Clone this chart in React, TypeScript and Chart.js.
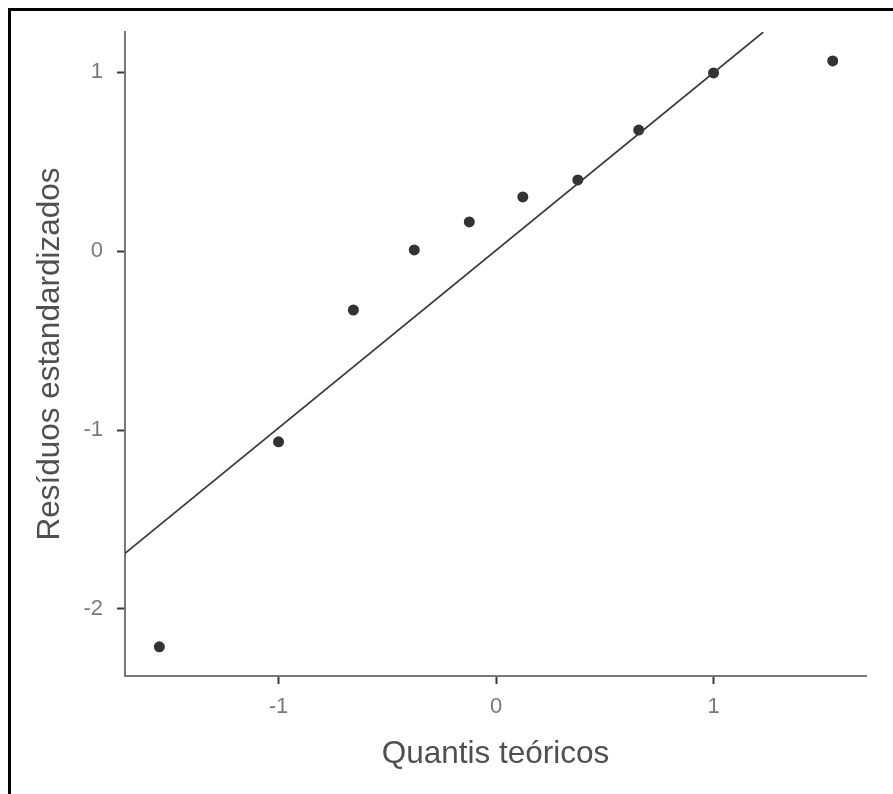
import React, { useEffect, useRef } from "react";
import { Chart, registerables } from "chart.js";

Chart.register(...registerables);

// Theoretical quantiles (x) and standardized residuals (y)
const theoreticalQuantiles = [-1.548, -1.0, -0.656, -0.376, -0.123, 0.123, 0.376, 0.656, 1.0, 1.548];
const standardizedResiduals = [-2.212, -1.066, -0.329, 0.007, 0.163, 0.303, 0.398, 0.677, 0.996, 1.063];

// Reference line endpoints
const refLineX = [-1.706, 1.229];
const refLineY = [-1.689, 1.225];

const xTicks = [-1, 0, 1];
const yTicks = [-2, -1, 0, 1];

const xTitle = "Quantis teóricos";
const yTitle = "Resíduos estandardizados";

const X_MIN = -1.706;
const X_MAX = 1.701;
const Y_MIN = -2.375;
const Y_MAX = 1.225;

export default function App() {
  const ref = useRef<HTMLCanvasElement | null>(null);

  useEffect(() => {
    if (!ref.current) return;
    const points = theoreticalQuantiles.map((x, i) => ({ x, y: standardizedResiduals[i] }));
    const line = refLineX.map((x, i) => ({ x, y: refLineY[i] }));
    const font = "'Liberation Sans', Arial, sans-serif";
    const chart = new Chart(ref.current, {
      type: "scatter",
      data: {
        datasets: [
          {
            label: "line",
            data: line,
            showLine: true,
            borderColor: "#3a3a3a",
            borderWidth: 1.7,
            pointRadius: 0,
            fill: false,
          },
          {
            label: "points",
            data: points,
            pointRadius: 5.5,
            pointBackgroundColor: "#333333",
            pointBorderColor: "#333333",
            pointBorderWidth: 0,
            clip: false as any,
          },
        ],
      },
      options: {
        animation: false,
        responsive: false,
        devicePixelRatio: 1,
        layout: { padding: { left: 0, top: 32, right: 27, bottom: 0 } },
        plugins: { legend: { display: false }, tooltip: { enabled: false } },
        scales: {
          x: {
            type: "linear",
            min: X_MIN,
            max: X_MAX,
            afterBuildTicks: (scale: any) => {
              scale.ticks = xTicks.map((v) => ({ value: v }));
            },
            afterFit: (scale: any) => {
              scale.height = 118;
            },
            grid: {
              display: true,
              drawOnChartArea: false,
              drawTicks: true,
              tickLength: 8,
              tickColor: "#3a3a3a",
              tickWidth: 2,
            },
            border: { display: true, color: "#777777", width: 2 },
            ticks: {
              color: "#7a7a7a",
              padding: 10,
              font: { family: font, size: 22 },
              callback: (v: any) => String(v),
            },
            title: {
              display: true,
              text: xTitle,
              color: "#505050",
              font: { family: font, size: 31.5 },
              padding: { top: 0, bottom: 21 },
            },
          },
          y: {
            type: "linear",
            min: Y_MIN,
            max: Y_MAX,
            afterBuildTicks: (scale: any) => {
              scale.ticks = yTicks.map((v) => ({ value: v }));
            },
            afterFit: (scale: any) => {
              scale.width = 125;
            },
            grid: {
              display: true,
              drawOnChartArea: false,
              drawTicks: true,
              tickLength: 8,
              tickColor: "#3a3a3a",
              tickWidth: 2,
            },
            border: { display: true, color: "#777777", width: 2 },
            ticks: {
              color: "#7a7a7a",
              padding: 14,
              font: { family: font, size: 22 },
              callback: (v: any) => String(v),
            },
            title: {
              display: true,
              text: yTitle,
              color: "#505050",
              font: { family: font, size: 31.5 },
              padding: { top: 31, bottom: 0 },
            },
          },
        },
      },
    });
    return () => chart.destroy();
  }, []);

  return (
    <div style={{ position: "absolute", left: 0, top: 0, width: 893, height: 794, overflow: "hidden", background: "#fff" }}>
      <div
        style={{
          position: "absolute",
          left: 8,
          top: 8,
          width: 885,
          height: 786,
          boxSizing: "border-box",
          borderTop: "3px solid #000",
          borderLeft: "3px solid #000",
        }}
      />
      <canvas ref={ref} width={893} height={794} style={{ position: "absolute", left: 0, top: 0, width: 893, height: 794 }} />
    </div>
  );
}
